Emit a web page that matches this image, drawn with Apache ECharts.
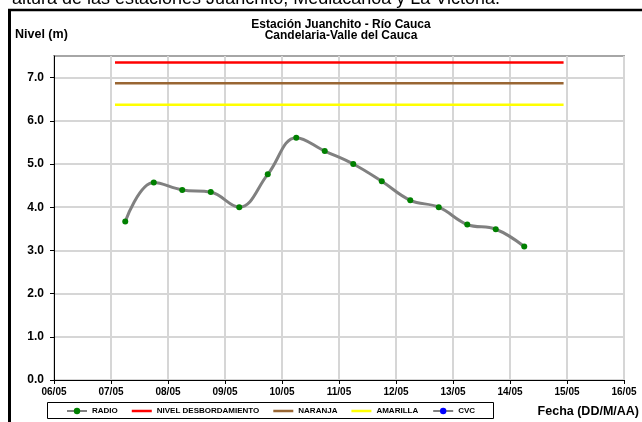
<!DOCTYPE html>
<html>
<head>
<meta charset="utf-8">
<script src="https://cdn.jsdelivr.net/npm/echarts@6/dist/echarts.min.js"></script>
<style>
  html, body { margin: 0; padding: 0; background: #fff; }
  #chart { width: 642px; height: 422px; }
</style>
</head>
<body>
<div id="chart"></div>
<script>
// etiquetas del eje x (dias de mayo)
const fechas = ['06/05', '07/05', '08/05', '09/05', '10/05', '11/05', '12/05', '13/05', '14/05', '15/05', '16/05']
const diaInicial = 6
// lecturas de radio: dia del mes (06:00 y 18:00) y nivel en metros
const diasRadio = [7.25, 7.75, 8.25, 8.75, 9.25, 9.75, 10.25, 10.75, 11.25, 11.75, 12.25, 12.75, 13.25, 13.75, 14.25]
const nivelRadio = [3.67, 4.57, 4.40, 4.35, 4.00, 4.76, 5.61, 5.30, 5.00, 4.60, 4.16, 4.00, 3.60, 3.49, 3.09]
// umbrales de alerta
const tramoUmbrales = [7.07, 14.94]
const nivelDesbordamiento = 7.35
const nivelNaranja = 6.87
const nivelAmarilla = 6.37
const ticksY = [0, 1, 2, 3, 4, 5, 6, 7]

const font = '"Liberation Sans", Arial, sans-serif'
const grisGrilla = '#d6d6d6'
// icono de leyenda: solo una raya
const iconoRaya = 'path://M0,0 H20 V2.5 H0 Z'

function umbral(nivel) {
  return tramoUmbrales.map(d => [d, nivel])
}

const chart = echarts.init(document.getElementById('chart'))

const option = {
  animation: false,
  backgroundColor: '#fff',
  textStyle: { fontFamily: font },
  grid: {
    left: 54, right: 18, top: 56, bottom: 42,
    show: true, borderColor: '#a6a6a6', borderWidth: 2
  },
  legend: {
    data: [
      { name: 'RADIO' },
      { name: 'NIVEL DESBORDAMIENTO', icon: iconoRaya },
      { name: 'NARANJA', icon: iconoRaya },
      { name: 'AMARILLA', icon: iconoRaya },
      { name: 'CVC' }
    ],
    left: 66, top: 407, padding: 0,
    itemWidth: 20, itemHeight: 8, itemGap: 14,
    textStyle: { fontSize: 8, fontWeight: 'bold', color: '#000', fontFamily: font }
  },
  xAxis: {
    type: 'value',
    min: 6, max: 16, interval: 1,
    axisLine: { lineStyle: { color: '#000', width: 1 } },
    axisTick: { show: true, length: 4, lineStyle: { color: '#000' } },
    axisLabel: {
      margin: 7, fontSize: 10, fontWeight: 'bold', color: '#000',
      formatter: v => fechas[Math.round(v - diaInicial)]
    },
    splitLine: { show: true, lineStyle: { color: grisGrilla, width: 2 } }
  },
  yAxis: {
    type: 'value',
    min: 0, max: 7.5, interval: 0.5,
    axisLine: { show: true, lineStyle: { color: '#000', width: 1 } },
    axisTick: { show: true, length: 4, customValues: ticksY, lineStyle: { color: '#000' } },
    axisLabel: {
      margin: 10, fontSize: 12, fontWeight: 'bold', color: '#000',
      customValues: ticksY,
      formatter: v => v.toFixed(1)
    },
    splitLine: { show: true, lineStyle: { color: grisGrilla, width: 2 } }
  },
  series: [
    {
      name: 'RADIO', type: 'line', smooth: 0.4,
      data: diasRadio.map((d, i) => [d, nivelRadio[i]]),
      symbol: 'circle', symbolSize: 6,
      lineStyle: { color: '#808080', width: 3 },
      itemStyle: { color: '#008000' },
      z: 5
    },
    {
      name: 'NIVEL DESBORDAMIENTO', type: 'line', data: umbral(nivelDesbordamiento),
      symbol: 'none', lineStyle: { color: '#ff0000', width: 2.5 }, itemStyle: { color: '#ff0000' }
    },
    {
      name: 'NARANJA', type: 'line', data: umbral(nivelNaranja),
      symbol: 'none', lineStyle: { color: '#996633', width: 2.5 }, itemStyle: { color: '#996633' }
    },
    {
      name: 'AMARILLA', type: 'line', data: umbral(nivelAmarilla),
      symbol: 'none', lineStyle: { color: '#ffff00', width: 2.5 }, itemStyle: { color: '#ffff00' }
    },
    {
      name: 'CVC', type: 'line', data: [],
      symbol: 'circle', symbolSize: 6,
      lineStyle: { color: '#808080', width: 2 },
      itemStyle: { color: '#0000ff' }
    }
  ],
  graphic: [
    // texto del documento, recortado arriba
    {
      type: 'text', x: 12, y: 8.5,
      style: { text: 'altura de las estaciones Juanchito, Mediacanoa y La Victoria.', font: '18px ' + font, fill: '#000', verticalAlign: 'bottom' }
    },
    // marco negro
    { type: 'line', shape: { x1: 9.5, y1: 9, x2: 9.5, y2: 422 }, style: { stroke: '#000', lineWidth: 3 } },
    { type: 'line', shape: { x1: 8, y1: 10, x2: 642, y2: 10 }, style: { stroke: '#000', lineWidth: 2.5 } },
    {
      type: 'text', x: 341, y: 24.5,
      style: { text: 'Estación Juanchito - Río Cauca', font: 'bold 12px ' + font, fill: '#000', align: 'center', verticalAlign: 'middle' }
    },
    {
      type: 'text', x: 341, y: 36,
      style: { text: 'Candelaria-Valle del Cauca', font: 'bold 12px ' + font, fill: '#000', align: 'center', verticalAlign: 'middle' }
    },
    {
      type: 'text', x: 15, y: 35,
      style: { text: 'Nivel (m)', font: 'bold 12.5px ' + font, fill: '#000', verticalAlign: 'middle' }
    },
    {
      type: 'text', x: 639, y: 412,
      style: { text: 'Fecha (DD/M/AA)', font: 'bold 12.5px ' + font, fill: '#000', align: 'right', verticalAlign: 'middle' }
    },
    // caja de la leyenda
    { type: 'rect', shape: { x: 47.5, y: 402.5, width: 446, height: 16 }, style: { fill: 'none', stroke: '#000', lineWidth: 1 }, z: -1 }
  ]
}

chart.setOption(option)
</script>
</body>
</html>
